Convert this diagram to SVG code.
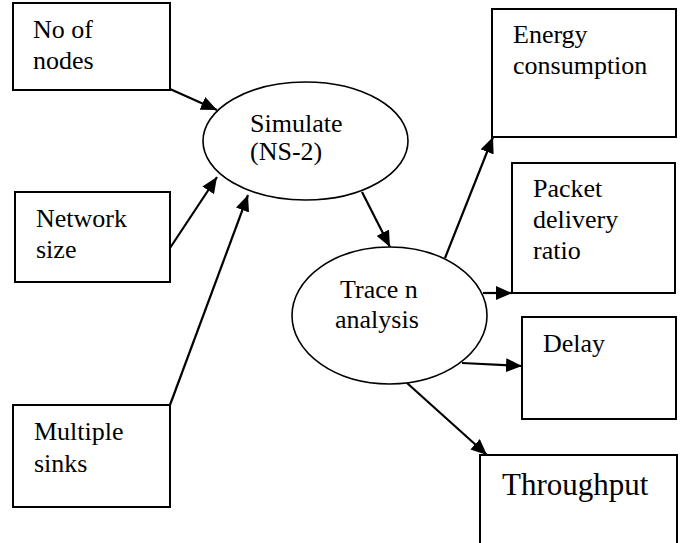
<svg xmlns="http://www.w3.org/2000/svg" width="681" height="543" viewBox="0 0 681 543">
<style>
.box{fill:#fff;stroke:#000;stroke-width:2}
.ell{fill:#fff;stroke:#000;stroke-width:1.6}
.t{font-family:'Liberation Serif','Times New Roman','DejaVu Serif',serif;font-size:26px;fill:#000}
.big{font-size:31px}
.c{stroke:#000;stroke-width:2.2;fill:none;marker-end:url(#ah)}
</style>
<defs>
<marker id="ah" markerUnits="userSpaceOnUse" markerWidth="18" markerHeight="14" refX="16" refY="7" orient="auto">
<path d="M0,0 L16,7 L0,14 Z" fill="#000"/>
</marker>
</defs>
<rect width="681" height="543" fill="#fff"/>
<g id="connectors">
<line class="c" x1="170" y1="89" x2="217" y2="110"/>
<line class="c" x1="170" y1="248" x2="217" y2="177"/>
<line class="c" x1="170" y1="405" x2="248" y2="195"/>
<line class="c" x1="362" y1="192" x2="390" y2="247"/>
<line class="c" x1="445" y1="258" x2="493" y2="137"/>
<line class="c" x1="483" y1="293" x2="512" y2="293"/>
<line class="c" x1="462" y1="363" x2="522" y2="366"/>
<line class="c" x1="407" y1="383" x2="487" y2="455"/>
</g>
<g id="no-of-nodes">
<rect class="box" x="13" y="3" width="157" height="87"/>
<text class="t" font-family="Liberation Serif, serif" x="33" y="38">No of</text>
<text class="t" font-family="Liberation Serif, serif" x="33" y="69">nodes</text>
</g>
<g id="network-size">
<rect class="box" x="15" y="192" width="155" height="90"/>
<text class="t" font-family="Liberation Serif, serif" x="36" y="227">Network</text>
<text class="t" font-family="Liberation Serif, serif" x="36" y="258">size</text>
</g>
<g id="multiple-sinks">
<rect class="box" x="13" y="405" width="157" height="102"/>
<text class="t" font-family="Liberation Serif, serif" x="34" y="440">Multiple</text>
<text class="t" font-family="Liberation Serif, serif" x="34" y="472">sinks</text>
</g>
<g id="simulate">
<ellipse class="ell" cx="305.5" cy="141" rx="102.5" ry="59"/>
<text class="t" font-family="Liberation Serif, serif" x="250" y="132">Simulate</text>
<text class="t" font-family="Liberation Serif, serif" x="250" y="160">(NS-2)</text>
</g>
<g id="trace">
<ellipse class="ell" cx="389.5" cy="315.5" rx="97.5" ry="68.5"/>
<text class="t" font-family="Liberation Serif, serif" x="340" y="298">Trace n</text>
<text class="t" font-family="Liberation Serif, serif" x="335" y="328">analysis</text>
</g>
<g id="energy">
<rect class="box" x="492" y="9" width="184" height="128"/>
<text class="t" font-family="Liberation Serif, serif" x="513" y="43">Energy</text>
<text class="t" font-family="Liberation Serif, serif" x="513" y="74">consumption</text>
</g>
<g id="packet">
<rect class="box" x="512" y="163" width="163" height="130"/>
<text class="t" font-family="Liberation Serif, serif" x="533" y="197">Packet</text>
<text class="t" font-family="Liberation Serif, serif" x="533" y="228">delivery</text>
<text class="t" font-family="Liberation Serif, serif" x="533" y="259">ratio</text>
</g>
<g id="delay">
<rect class="box" x="522" y="317" width="154" height="102"/>
<text class="t" font-family="Liberation Serif, serif" x="543" y="352">Delay</text>
</g>
<g id="throughput">
<rect class="box" x="480" y="455" width="197" height="95"/>
<text class="t big" font-family="Liberation Serif, serif" x="502" y="495">Throughput</text>
</g>
</svg>
